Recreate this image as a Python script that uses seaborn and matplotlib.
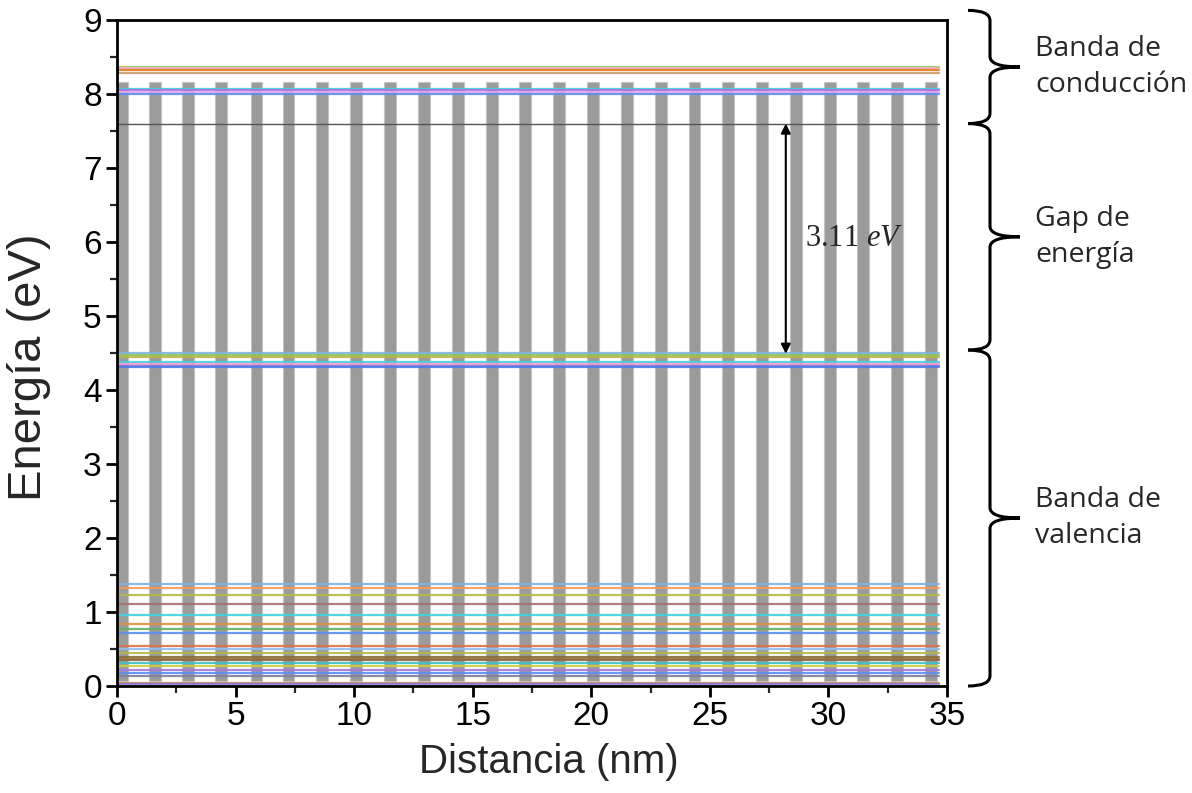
import matplotlib

matplotlib.use("Agg")
import matplotlib.pyplot as plt
import matplotlib.transforms as mtransforms
from matplotlib.path import Path
from matplotlib.patches import PathPatch
from matplotlib.ticker import MultipleLocator
import pandas as pd
import seaborn as sns

# centres of the gray barrier bars (nm) and their vertical extent (eV)
barrier_centers = [0.23, 1.60, 3.00, 4.40, 5.88, 7.23, 8.65, 10.08, 11.50, 12.95,
                   14.38, 15.80, 17.22, 18.65, 20.08, 21.50, 22.92, 24.35, 25.78,
                   27.20, 28.62, 30.05, 31.47, 32.90, 34.32]
barrier_bottom = 0.07
barrier_top = 8.16

# energy levels (eV)
conduction_levels = [8.37, 8.35, 8.32, 8.29, 8.07, 8.05, 8.03, 8.00]
valence_top_levels = [4.50, 4.47, 4.45, 4.38, 4.35, 4.33, 4.31]
valence_low_levels = [1.38, 1.32, 1.23, 1.11, 0.96, 0.84, 0.77, 0.72, 0.54, 0.50,
                      0.44, 0.39, 0.37, 0.35, 0.31, 0.27, 0.22, 0.17, 0.13, 0.045, 0.03]
gap_edge = 7.60
gap_bottom = 4.49
gap_label = "3.11"

# region labels and their limits (eV)
region_labels = ["Banda de\nconducción", "Gap de\nenergía", "Banda de\nvalencia"]
region_limits = [(7.60, 9.13), (4.54, 7.60), (0.0, 4.54)]

x_start, x_end = 0.0, 34.65

conduction_colors = ["#8fd14f", "#f2a7c9", "#e07b1a", "#c99a6b",
                     "#40d3e0", "#a676e0", "#e9a6ef", "#5b8ff0"]
valence_top_colors = ["#7fb3e6", "#8fc45a", "#b5b94a", "#40d3e0",
                      "#f0a0d0", "#9a6be0", "#4f7fe8"]
valence_low_colors = ["#7fb3e6", "#f59a5a", "#b5b94a", "#a87070", "#40d3e0",
                      "#e0903a", "#62b062", "#5b8ff0", "#e0704a", "#8fbfe8",
                      "#b5b94a", "#8c6d3a", "#9a7a40", "#8c6d3a", "#40c0c8",
                      "#c8d040", "#a676e0", "#5b8ff0", "#8080a0", "#d08a40", "#8a7ae0"]

levels = conduction_levels + valence_top_levels + valence_low_levels
colors = conduction_colors + valence_top_colors + valence_low_colors

rows = []
for i, e in enumerate(levels):
    rows.append({"level": f"L{i}", "x": x_start, "energy": e})
    rows.append({"level": f"L{i}", "x": x_end, "energy": e})
lines_df = pd.DataFrame(rows)
palette = {f"L{i}": c for i, c in enumerate(colors)}

sns.set_theme(style="ticks")
plt.rcParams["font.family"] = ["Liberation Sans", "DejaVu Sans"]
plt.rcParams["mathtext.fontset"] = "custom"
plt.rcParams["mathtext.rm"] = "Liberation Serif"
plt.rcParams["mathtext.it"] = "Liberation Serif:italic"

fig = plt.figure(figsize=(11.92, 7.93), dpi=100)
ax = fig.add_axes([0.0982, 0.1349, 0.6963, 0.8399])

ax.bar(barrier_centers, barrier_top - barrier_bottom, bottom=barrier_bottom,
       width=0.5, color="#9b9b9b", edgecolor="#c4c4c4", linewidth=0.8, zorder=1)

sns.lineplot(data=lines_df, x="x", y="energy", hue="level", palette=palette,
             estimator=None, legend=False, linewidth=1.6, alpha=0.9, ax=ax, zorder=2)

ax.plot([x_start, x_end], [gap_edge, gap_edge], color="#555555", lw=1.0, zorder=2)

ax.annotate("", xy=(28.2, gap_edge), xytext=(28.2, gap_bottom),
            arrowprops=dict(arrowstyle="<|-|>", color="black", lw=1.5,
                            mutation_scale=14, shrinkA=0, shrinkB=0), zorder=3)
ax.text(29.0, 6.05, gap_label + r" $eV$", fontsize=22, family="Liberation Serif",
        va="center", ha="left", zorder=3)

ax.set_xlim(0, 35)
ax.set_ylim(0, 9)
ax.xaxis.set_major_locator(MultipleLocator(5))
ax.xaxis.set_minor_locator(MultipleLocator(2.5))
ax.yaxis.set_major_locator(MultipleLocator(1))
ax.yaxis.set_minor_locator(MultipleLocator(0.5))
ax.tick_params(which="major", direction="out", length=8, width=2, labelsize=24,
               colors="black", pad=3)
ax.tick_params(which="minor", direction="out", length=5, width=1.6)
for side in ["top", "right", "left", "bottom"]:
    ax.spines[side].set_visible(True)
    ax.spines[side].set_linewidth(2)
    ax.spines[side].set_color("black")
ax.set_xlabel("Distancia (nm)", fontsize=29)
ax.set_ylabel("Energía (eV)", fontsize=34)
ax.xaxis.set_label_coords(0.52, -0.085)
ax.yaxis.set_label_coords(-0.08, 0.479)

# curly braces on the right side
trans = mtransforms.blended_transform_factory(fig.transFigure, ax.transData)
x_curl, x_line, x_tip = 968 / 1192, 990 / 1192, 1020 / 1192
r = 0.14
for (y0, y1), label in zip(region_limits, region_labels):
    ym = (y0 + y1) / 2
    verts = [(x_curl, y1), (x_line, y1), (x_line, y1 - r),
             (x_line, ym + r), (x_line, ym), (x_tip, ym),
             (x_line, ym), (x_line, ym - r),
             (x_line, y0 + r), (x_line, y0), (x_curl, y0)]
    codes = [Path.MOVETO, Path.CURVE3, Path.CURVE3,
             Path.LINETO, Path.CURVE3, Path.CURVE3,
             Path.CURVE3, Path.CURVE3,
             Path.LINETO, Path.CURVE3, Path.CURVE3]
    brace = PathPatch(Path(verts, codes), transform=trans, fill=False,
                      edgecolor="black", lw=2.2, clip_on=False)
    fig.add_artist(brace)
    fig.text(1035 / 1192, ym, label, transform=trans, fontsize=20.5,
             family=["Open Sans", "DejaVu Sans"], va="center", ha="left",
             linespacing=1.4)

fig.savefig("out.png", dpi=100)
